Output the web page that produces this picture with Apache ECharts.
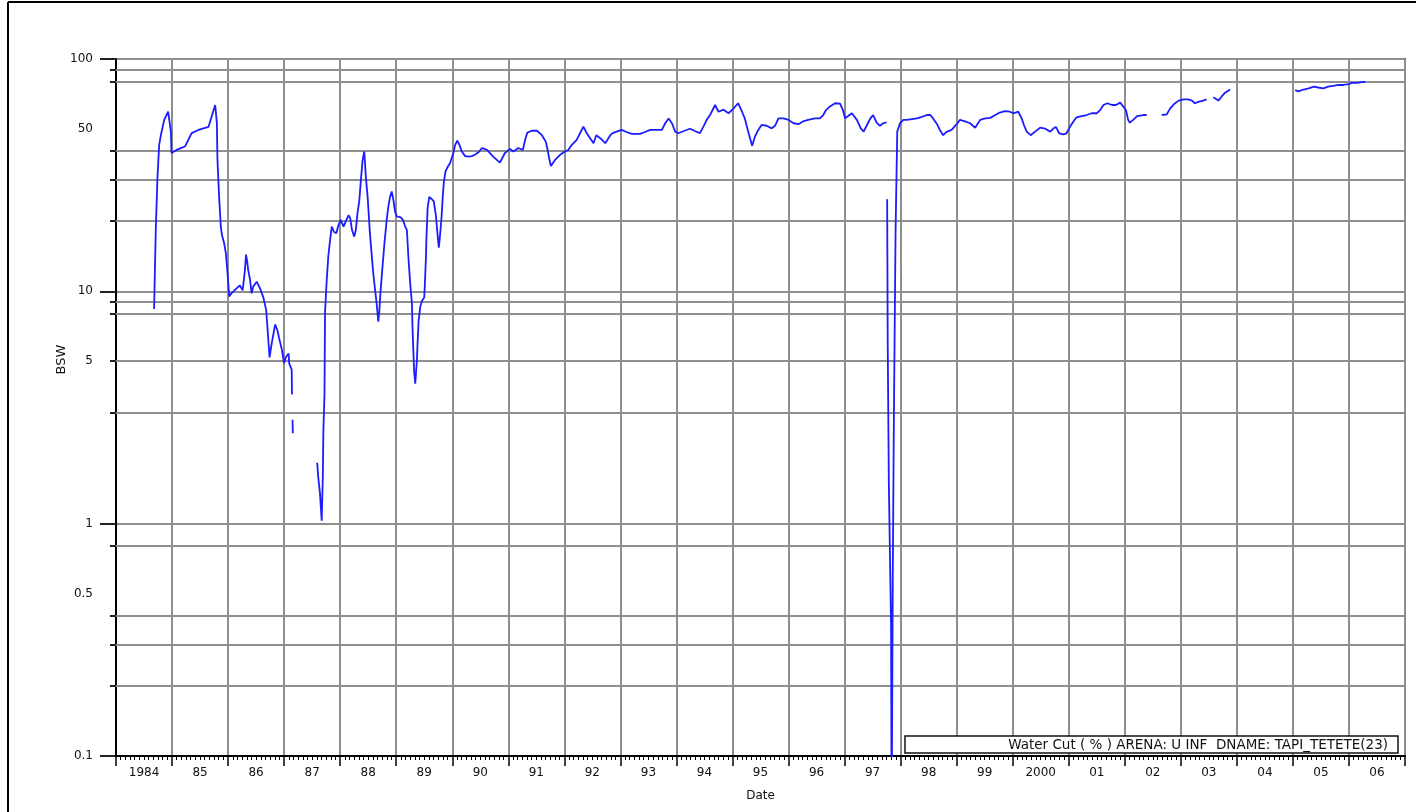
<!DOCTYPE html>
<html>
<head>
<meta charset="utf-8">
<script src="https://cdn.jsdelivr.net/npm/echarts@6/dist/echarts.min.js"></script>
<style>
  html, body { margin: 0; padding: 0; background: #fff; }
  #chart { width: 1422px; height: 812px; }
</style>
</head>
<body>
<div id="chart"></div>
<script>
// Year labels shown centred in each yearly band along the time axis
const yearLabels = ['1984', '85', '86', '87', '88', '89', '90', '91', '92', '93', '94', '95',
  '96', '97', '98', '99', '2000', '01', '02', '03', '04', '05', '06'];

// Sample dates as decimal years; null values in waterCut break the line
const dates = [
  1984.68, 1984.69, 1984.71, 1984.74, 1984.77, 1984.80, 1984.86, 1984.93, 1984.98, 1984.99,
  1985.08, 1985.23, 1985.35, 1985.47, 1985.65, 1985.77, 1985.80, 1985.81, 1985.84, 1985.86,
  1985.87, 1985.89, 1985.93, 1985.96, 1985.99, 1986.02, 1986.06, 1986.15, 1986.21, 1986.26,
  1986.27, 1986.30, 1986.32, 1986.34, 1986.36, 1986.39, 1986.42, 1986.45, 1986.51, 1986.57,
  1986.63, 1986.68, 1986.71, 1986.74, 1986.78, 1986.84, 1986.88, 1986.91, 1986.96, 1987.00,
  1987.03, 1987.08, 1987.09, 1987.135, 1987.14, 1987.145, 1987.15, 1987.155, 1987.30,
  1987.59, 1987.61, 1987.64, 1987.67, 1987.69, 1987.70, 1987.72, 1987.73, 1987.76, 1987.79,
  1987.82, 1987.85, 1987.89, 1987.93, 1987.97, 1988.01, 1988.06, 1988.10, 1988.15, 1988.18,
  1988.21, 1988.25, 1988.28, 1988.31, 1988.34, 1988.37, 1988.40, 1988.43, 1988.46, 1988.49,
  1988.53, 1988.56, 1988.59, 1988.62, 1988.65, 1988.68, 1988.70, 1988.72, 1988.75, 1988.79,
  1988.83, 1988.86, 1988.89, 1988.92, 1988.95, 1988.98, 1989.01, 1989.08, 1989.12, 1989.16,
  1989.19, 1989.22, 1989.25, 1989.28, 1989.29, 1989.305, 1989.32, 1989.34, 1989.37, 1989.38,
  1989.40, 1989.43, 1989.46, 1989.50, 1989.51, 1989.53, 1989.54, 1989.56, 1989.59, 1989.63,
  1989.67, 1989.71, 1989.73, 1989.76, 1989.78, 1989.81, 1989.83, 1989.85, 1989.88, 1989.92,
  1989.96, 1990.02, 1990.05, 1990.09, 1990.13, 1990.17, 1990.23, 1990.29, 1990.35, 1990.41,
  1990.47, 1990.53, 1990.62, 1990.73, 1990.85, 1990.94, 1991.03, 1991.09, 1991.18, 1991.26,
  1991.30, 1991.34, 1991.42, 1991.51, 1991.60, 1991.67, 1991.70, 1991.73, 1991.76, 1991.83,
  1991.92, 1992.01, 1992.07, 1992.13, 1992.22, 1992.28, 1992.34, 1992.40, 1992.46, 1992.52,
  1992.57, 1992.64, 1992.73, 1992.82, 1992.86, 1993.02, 1993.11, 1993.20, 1993.35, 1993.44,
  1993.53, 1993.74, 1993.80, 1993.86, 1993.92, 1993.98, 1994.03, 1994.24, 1994.33, 1994.42,
  1994.48, 1994.54, 1994.60, 1994.69, 1994.75, 1994.84, 1994.93, 1995.02, 1995.10, 1995.17,
  1995.22, 1995.28, 1995.35, 1995.40, 1995.46, 1995.52, 1995.61, 1995.70, 1995.76, 1995.82,
  1995.91, 1996.00, 1996.09, 1996.18, 1996.26, 1996.35, 1996.47, 1996.56, 1996.62, 1996.67,
  1996.74, 1996.83, 1996.92, 1996.97, 1997.01, 1997.07, 1997.13, 1997.22, 1997.29, 1997.34,
  1997.40, 1997.46, 1997.51, 1997.57, 1997.63, 1997.69, 1997.75, 1997.755,
  1997.76, 1997.77, 1997.79, 1997.83, 1997.84, 1997.86, 1997.88, 1997.91, 1997.94, 1997.99,
  1998.05, 1998.11, 1998.29, 1998.38, 1998.47, 1998.53, 1998.58, 1998.65, 1998.70, 1998.76,
  1998.82, 1998.91, 1999.00, 1999.06, 1999.15, 1999.24, 1999.33, 1999.42, 1999.51, 1999.60,
  1999.69, 1999.77, 1999.86, 1999.95, 2000.01, 2000.10, 2000.16, 2000.20, 2000.25, 2000.32,
  2000.40, 2000.49, 2000.58, 2000.67, 2000.73, 2000.77, 2000.83, 2000.90, 2000.96, 2001.02,
  2001.08, 2001.14, 2001.23, 2001.32, 2001.41, 2001.50, 2001.56, 2001.62, 2001.69, 2001.77,
  2001.84, 2001.92, 2001.97, 2002.02, 2002.06, 2002.09, 2002.15, 2002.22, 2002.33, 2002.39,
  2002.50, 2002.66, 2002.75, 2002.81, 2002.88, 2002.96, 2003.05, 2003.13, 2003.20, 2003.25,
  2003.31, 2003.40, 2003.46, 2003.52, 2003.58, 2003.67, 2003.73, 2003.79, 2003.88, 2004.50,
  2005.04, 2005.10, 2005.19, 2005.28, 2005.37, 2005.45, 2005.54, 2005.63, 2005.72, 2005.81,
  2005.90, 2005.99, 2006.05, 2006.14, 2006.23, 2006.29
];

// Water cut, percent
const waterCut = [
  8.4, 11.0, 18.5, 31, 42.6, 47, 54.7, 59.3, 48.7, 39.4,
  40.6, 42, 48, 49.5, 51, 63.4, 53, 37, 25.5, 21,
  19, 17.5, 16.1, 14.6, 12, 9.5, 9.8, 10.3, 10.6, 10.1,
  10.6, 12.3, 14.4, 13.5, 12.3, 11.3, 9.8, 10.5, 11, 10.3,
  9.4, 8.3, 6.6, 5.2, 6.0, 7.2, 6.8, 6.3, 5.6, 4.9,
  5.2, 5.4, 4.9, 4.6, 3.6, null, 2.8, 2.45, null,
  1.83, 1.57, 1.35, 1.03, 1.57, 2.5, 3.6, 8.1, 11.2, 14.3,
  16.6, 19, 18, 17.8, 19.3, 20.3, 19, 20, 21.3, 20.6,
  18.4, 17.2, 18.4, 21.8, 24.4, 30.2, 36.7, 40, 30.7, 25.5,
  17.9, 14.6, 12, 10.3, 8.9, 7.4, 8.3, 10, 12.3, 16.1,
  20.3, 23.2, 25.5, 26.9, 24.7, 22, 21, 20.8, 20.3, 19,
  18.4, 13.7, 10.8, 8.9, 7.1, 5.6, 4.5, 4.0, 5.1, 5.9,
  7.5, 8.6, 9.1, 9.4, 10.6, 13.9, 17.2, 22.8, 25.5, 25,
  24.4, 21, 18.4, 15.4, 17.2, 21, 25.5, 29.6, 32.8, 34.4,
  35.6, 39.4, 42.6, 44.5, 42.6, 40, 38.2, 38, 38.2, 38.8,
  39.7, 41.4, 40.6, 38, 35.8, 39.4, 41, 40, 41.4, 40.6,
  44.9, 48.2, 49.1, 49.1, 47, 44, 40.8, 37.3, 34.6, 36.7,
  38.6, 40, 40.6, 42.6, 44.9, 47.9, 51.2, 47.9, 45.6, 43.4,
  47, 45.6, 43.4, 47, 48, 49.5, 48.5, 47.6, 47.6, 48.5,
  49.5, 49.5, 52.9, 55.5, 52.9, 48.6, 47.9, 50.1, 49, 48,
  51, 54.7, 57.4, 63.4, 59.3, 60.5, 58.4, 61.3, 64.5, 59.3,
  55.5, 48.7, 42.3, 46.3, 49.5, 52, 51.6, 50.3, 51.6, 55.5,
  55.5, 54.7, 52.9, 52.4, 53.9, 54.7, 55.5, 55.5, 57.4, 60.3,
  62.5, 64.5, 64.2, 60.3, 55.5, 57, 58.4, 54.7, 50.3, 48.7,
  52, 55.5, 57.4, 53.4, 51.6, 52.9, 53.4, null,
  24.9, 6.0, 1.5, 0.36, 0.05, 0.58, 2.85, 18, 48.7, 52.9,
  54.7, 54.7, 55.5, 56.4, 57.4, 57.4, 55.5, 52.4, 49.5, 47,
  48.6, 49.5, 52.4, 54.7, 53.9, 52.9, 50.6, 54.7, 55.5, 55.8,
  57.4, 58.8, 59.7, 59.3, 58.4, 59.3, 55.5, 52, 48.7, 47,
  48.7, 50.6, 50.1, 48.7, 50.3, 51, 47.9, 47.4, 47.9, 51,
  53.7, 56.1, 56.8, 57.4, 58.4, 58.4, 60.3, 63.4, 64.5, 63.4,
  63.4, 64.9, 62.5, 60.3, 54.7, 53.2, 54.7, 56.8, 57.4, 57.4,
  null, 57.4, 57.8, 61.3, 64, 66.2, 67, 67, 66.2, 64.5,
  65.4, 66.2, 67, null, 68.4, 66.2, 69, 71.6, 74, null,
  73.5, 72.5, 73.9, 74.8, 76, 75.4, 74.8, 76, 76.7, 77.3,
  77.3, 78, 79, 79, 79.6, 79.6
];

// Horizontal reference lines of the log axis besides the decades
const yGridValues = [90, 80, 40, 30, 20, 9, 8, 5, 3, 0.8, 0.4, 0.3, 0.2];
// Intermediate tick labels of the log axis
const yExtraLabels = [50, 5, 0.5];

const seriesName = 'Water Cut ( % ) ARENA: U INF  DNAME: TAPI_TETETE(23)';

const FONT = '"DejaVu Sans", "Liberation Sans", sans-serif';
const TEXT_COLOR = '#111';
const GRID_COLOR = '#8e8e8e';
const LINE_COLOR = '#1c1cff';
const LEGEND_FONT_SIZE = 13.5;

// Size the legend frame so the caption sits flush right inside it
const measureCtx = document.createElement('canvas').getContext('2d');
measureCtx.font = LEGEND_FONT_SIZE + 'px "DejaVu Sans"';
const captionWidth = measureCtx.measureText(seriesName).width;
const legendFrameWidth = 493;
const legendLeftPad = Math.max(8, legendFrameWidth - captionWidth - 5 - 10);

const chart = echarts.init(document.getElementById('chart'), null, { renderer: 'canvas' });

const option = {
  animation: false,
  backgroundColor: '#fff',
  grid: {
    left: 116, right: 17, top: 59, bottom: 56,
    show: true, borderColor: '#3a3a3a', borderWidth: 2,
    backgroundColor: 'transparent'
  },
  legend: {
    data: [seriesName],
    left: 905, top: 736,
    icon: 'none', itemWidth: 0, itemHeight: 12, itemGap: 0,
    padding: [2, 10, 1, legendLeftPad],
    borderColor: '#111', borderWidth: 1.5,
    backgroundColor: '#fff',
    selectedMode: false,
    textStyle: { fontFamily: FONT, fontSize: LEGEND_FONT_SIZE, color: TEXT_COLOR }
  },
  xAxis: [
    {
      type: 'value', min: 1984, max: 2007, interval: 1, position: 'bottom',
      axisLine: { show: true, lineStyle: { color: '#000', width: 2 } },
      axisTick: { show: true, length: 10, lineStyle: { color: '#000', width: 1.5 } },
      minorTick: { show: true, splitNumber: 12, length: 4, lineStyle: { color: '#000', width: 1 } },
      splitLine: { show: true, lineStyle: { color: GRID_COLOR, width: 2 } },
      minorSplitLine: { show: false },
      axisLabel: { show: false }
    },
    {
      type: 'category', data: yearLabels, position: 'bottom', boundaryGap: true,
      axisLine: { show: false }, axisTick: { show: false }, splitLine: { show: false },
      axisLabel: { interval: 0, margin: 11, fontFamily: FONT, fontSize: 12, color: TEXT_COLOR },
      name: 'Date', nameLocation: 'middle', nameGap: 34, nameMoveOverlap: false,
      nameTextStyle: { fontFamily: FONT, fontSize: 12, color: TEXT_COLOR }
    }
  ],
  yAxis: {
    type: 'log', logBase: 10, min: 0.1, max: 100,
    axisLine: { show: true, lineStyle: { color: '#000', width: 2 } },
    axisTick: { show: true, length: 16, lineStyle: { color: '#222', width: 2 } },
    minorTick: { show: false },
    splitLine: { show: true, lineStyle: { color: GRID_COLOR, width: 2 } },
    axisLabel: {
      margin: 23, fontFamily: FONT, fontSize: 12, color: TEXT_COLOR,
      formatter: function (v) { return String(v); }
    },
    name: 'BSW', nameLocation: 'middle', nameGap: 48, nameMoveOverlap: false,
    nameTextStyle: { fontFamily: FONT, fontSize: 13, color: TEXT_COLOR, padding: [0, 0, 0, 96] }
  },
  series: [
    {
      // intermediate grid lines with their short ticks left of the axis
      type: 'custom', xAxisIndex: 0, yAxisIndex: 0, silent: true, z: 1,
      data: yGridValues.map(function (v) { return [1984, v]; }),
      renderItem: function (params, api) {
        const cs = params.coordSys;
        const y = Math.round(api.coord([api.value(0), api.value(1)])[1]);
        return {
          type: 'group',
          children: [
            { type: 'line', shape: { x1: cs.x, y1: y, x2: cs.x + cs.width, y2: y },
              style: { stroke: GRID_COLOR, lineWidth: 2 } },
            { type: 'line', shape: { x1: cs.x - 6, y1: y, x2: cs.x, y2: y },
              style: { stroke: '#222', lineWidth: 2 } }
          ]
        };
      }
    },
    {
      // labels at 50, 5 and 0.5
      type: 'custom', xAxisIndex: 0, yAxisIndex: 0, silent: true, z: 3,
      data: yExtraLabels.map(function (v) { return [1984, v]; }),
      renderItem: function (params, api) {
        const cs = params.coordSys;
        const v = api.value(1);
        const y = api.coord([api.value(0), v])[1];
        return {
          type: 'text',
          style: {
            text: String(v), x: cs.x - 23, y: y,
            align: 'right', verticalAlign: 'middle',
            font: '12px ' + FONT, fill: TEXT_COLOR
          }
        };
      }
    },
    {
      name: seriesName,
      type: 'line', xAxisIndex: 0, yAxisIndex: 0, z: 5,
      data: dates.map(function (d, i) { return [d, waterCut[i]]; }),
      showSymbol: false, symbol: 'none', connectNulls: false, clip: true,
      lineStyle: { color: LINE_COLOR, width: 1.8 },
      itemStyle: { color: LINE_COLOR }
    }
  ],
  graphic: [
    // page frame on the left and top edges
    { type: 'line', shape: { x1: 8, y1: 2, x2: 8, y2: 812 }, style: { stroke: '#000', lineWidth: 2 } },
    { type: 'line', shape: { x1: 8, y1: 2, x2: 1416, y2: 2 }, style: { stroke: '#000', lineWidth: 2 } }
  ]
};

chart.setOption(option);
</script>
</body>
</html>
